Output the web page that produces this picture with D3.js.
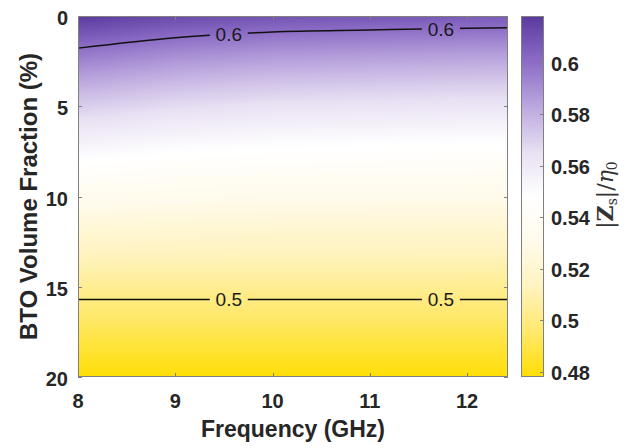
<!DOCTYPE html>
<html><head><meta charset="utf-8">
<script src="https://cdn.jsdelivr.net/npm/d3@7"></script>
<style>body{margin:0;background:#fff}svg{display:block}</style>
</head><body>
<svg id="chart" width="630" height="448"></svg>
<script>
// ---------- data ----------
const freqs = [8, 9, 10, 11, 12, 12.42];            // GHz (grid columns)
const fractions = [0,1,2,3,4,5,6,7,8,9,10,11,12,13,14,15,16,17,18,19,20]; // BTO %
const z8    = [0.6180,0.6078,0.5978,0.5885,0.5795,0.5710,0.5630,0.5555,0.5485,0.5410,0.5340,0.5272,0.5207,0.5146,0.5090,0.5036,0.4985,0.4935,0.4886,0.4838,0.4790];
const z9    = [0.6122,0.6020,0.5920,0.5830,0.5743,0.5664,0.5589,0.5520,0.5456,0.5387,0.5323,0.5259,0.5198,0.5140,0.5087,0.5036,0.4985,0.4935,0.4886,0.4838,0.4790];
const z10   = [0.6090,0.5988,0.5888,0.5799,0.5714,0.5638,0.5567,0.5501,0.5440,0.5374,0.5313,0.5252,0.5193,0.5137,0.5085,0.5036,0.4985,0.4935,0.4886,0.4838,0.4790];
const z11   = [0.6079,0.5977,0.5877,0.5789,0.5704,0.5629,0.5559,0.5494,0.5434,0.5370,0.5310,0.5250,0.5192,0.5136,0.5085,0.5036,0.4985,0.4935,0.4886,0.4838,0.4790];
const z12   = [0.6069,0.5967,0.5867,0.5780,0.5695,0.5621,0.5552,0.5488,0.5429,0.5366,0.5307,0.5248,0.5190,0.5135,0.5084,0.5036,0.4985,0.4935,0.4886,0.4838,0.4790];
const z1242 = [0.6067,0.5965,0.5865,0.5778,0.5694,0.5620,0.5551,0.5487,0.5428,0.5365,0.5306,0.5248,0.5190,0.5135,0.5084,0.5036,0.4985,0.4935,0.4886,0.4838,0.4790];
const zColumns = [z8, z9, z10, z11, z12, z1242];

const xTicks = [8, 9, 10, 11, 12];
const yTicks = [0, 5, 10, 15, 20];
const cbTicks = [0.48, 0.50, 0.52, 0.54, 0.56, 0.58, 0.60];
const cbDomain = [0.478, 0.618];
const contourLevels = [0.5, 0.6];
const labelFreqs = [9.55, 11.73];
const colorStopValues = [0.478, 0.495, 0.513, 0.530, 0.548, 0.565, 0.583, 0.600, 0.618];
const colorStopColors = ["#ffde00", "#ffe86a", "#fff3bf", "#fffaea", "#ffffff", "#e8e0f3", "#bba7de", "#8c6dc6", "#5a3a9e"];

// ---------- layout ----------
const W = 630, H = 448;
const plot = {left: 78, top: 16, right: 508, bottom: 377};
const cb = {left: 521, right: 544, top: 16, bottom: 377};
const axisColor = "#808080", textColor = "#262626";
const font = "'Liberation Sans', Arial, Helvetica, sans-serif";

const x = d3.scaleLinear().domain([8, 12.42]).range([plot.left, plot.right]);
const y = d3.scaleLinear().domain([0, 20]).range([plot.top, plot.bottom]);
const color = d3.scaleLinear().domain(colorStopValues).range(colorStopColors).interpolate(d3.interpolateRgb).clamp(true);
const cbY = d3.scaleLinear().domain(cbDomain).range([cb.bottom, cb.top]);

const svg = d3.select("#chart");

// bilinear lookup on the grid
const bis = d3.bisector(d => d).right;
function zAt(f, v) {
  let i = Math.min(Math.max(bis(freqs, f) - 1, 0), freqs.length - 2);
  let j = Math.min(Math.max(bis(fractions, v) - 1, 0), fractions.length - 2);
  const tf = Math.max(0, Math.min(1, (f - freqs[i]) / (freqs[i+1] - freqs[i])));
  const tv = Math.max(0, Math.min(1, (v - fractions[j]) / (fractions[j+1] - fractions[j])));
  const a = zColumns[i][j], b = zColumns[i+1][j], c = zColumns[i][j+1], d = zColumns[i+1][j+1];
  return (a*(1-tf) + b*tf)*(1-tv) + (c*(1-tf) + d*tf)*tv;
}

// ---------- heatmap (interpolated shading) ----------
const pw = plot.right - plot.left, ph = plot.bottom - plot.top;
const canvas = document.createElement("canvas");
canvas.width = pw; canvas.height = ph;
const ctx = canvas.getContext("2d");
const img = ctx.createImageData(pw, ph);
for (let py = 0; py < ph; py++) {
  const v = y.invert(plot.top + py + 0.5);
  for (let px = 0; px < pw; px++) {
    const f = x.invert(plot.left + px + 0.5);
    const c = d3.rgb(color(zAt(f, v)));
    const k = (py * pw + px) * 4;
    img.data[k] = c.r; img.data[k+1] = c.g; img.data[k+2] = c.b; img.data[k+3] = 255;
  }
}
ctx.putImageData(img, 0, 0);
svg.append("image").attr("x", plot.left).attr("y", plot.top).attr("width", pw).attr("height", ph)
  .attr("preserveAspectRatio", "none").attr("href", canvas.toDataURL());

// ---------- contours ----------
function contourPoints(level) {
  const pts = [];
  freqs.forEach((f, i) => {
    const col = zColumns[i];
    for (let j = 0; j < col.length - 1; j++) {
      if ((col[j] - level) * (col[j+1] - level) <= 0 && col[j] !== col[j+1]) {
        const t = (col[j] - level) / (col[j] - col[j+1]);
        pts.push([f, fractions[j] + t * (fractions[j+1] - fractions[j])]);
        break;
      }
    }
  });
  return pts;
}
function vOnLine(pts, f) {
  for (let i = 0; i < pts.length - 1; i++) {
    if (f >= pts[i][0] && f <= pts[i+1][0]) {
      const t = (f - pts[i][0]) / (pts[i+1][0] - pts[i][0]);
      return pts[i][1] + t * (pts[i+1][1] - pts[i][1]);
    }
  }
  return pts[pts.length-1][1];
}
const defs = svg.append("defs");
const mask = defs.append("mask").attr("id", "cmask").attr("maskUnits", "userSpaceOnUse")
  .attr("x", 0).attr("y", 0).attr("width", W).attr("height", H);
mask.append("rect").attr("x", 0).attr("y", 0).attr("width", W).attr("height", H).attr("fill", "#fff");
const line = d3.line().x(d => x(d[0])).y(d => y(d[1])).curve(d3.curveMonotoneX);
const cg = svg.append("g").attr("mask", "url(#cmask)");
const lg = svg.append("g");
contourLevels.forEach(level => {
  const pts = contourPoints(level);
  cg.append("path").attr("d", line(pts)).attr("fill", "none").attr("stroke", "#111").attr("stroke-width", 1.5);
  labelFreqs.forEach(f => {
    const cx = x(f), cy = y(vOnLine(pts, f));
    mask.append("rect").attr("x", cx - 19).attr("y", cy - 11).attr("width", 38).attr("height", 22).attr("fill", "#000");
    lg.append("text").attr("x", cx).attr("y", cy).attr("dy", "0.36em").attr("text-anchor", "middle")
      .attr("font-family", font).attr("font-size", 19).attr("fill", "#1a1a1a").text(String(+level.toFixed(2)));
  });
});

// ---------- axes box & ticks ----------
const tl = 4;
const ax = svg.append("g").attr("stroke", axisColor).attr("stroke-width", 1).attr("fill", "none");
ax.append("rect").attr("x", plot.left + 0.5).attr("y", plot.top + 0.5).attr("width", pw - 1).attr("height", ph - 1);
xTicks.forEach(t => {
  const px = Math.round(x(t)) + 0.5;
  ax.append("line").attr("x1", px).attr("x2", px).attr("y1", plot.bottom).attr("y2", plot.bottom - tl);
  ax.append("line").attr("x1", px).attr("x2", px).attr("y1", plot.top).attr("y2", plot.top + tl);
});
yTicks.forEach(t => {
  const py = Math.round(y(t)) + 0.5;
  ax.append("line").attr("x1", plot.left).attr("x2", plot.left + tl).attr("y1", py).attr("y2", py);
  ax.append("line").attr("x1", plot.right).attr("x2", plot.right - tl).attr("y1", py).attr("y2", py);
});
const tg = svg.append("g").attr("font-family", font).attr("font-weight", "bold").attr("font-size", 20).attr("fill", textColor);
xTicks.forEach(t => tg.append("text").attr("x", x(t)).attr("y", 408).attr("text-anchor", "middle").text(t));
yTicks.forEach(t => tg.append("text").attr("x", plot.left - 10).attr("y", y(t) + 2).attr("dy", "0.36em").attr("text-anchor", "end").text(t));

svg.append("text").attr("x", (plot.left + plot.right) / 2).attr("y", 437).attr("text-anchor", "middle")
  .attr("font-family", font).attr("font-weight", "bold").attr("font-size", 23).attr("fill", textColor).text("Frequency (GHz)");
svg.append("text").attr("transform", `translate(37,${(plot.top + plot.bottom) / 2}) rotate(-90)`).attr("text-anchor", "middle")
  .attr("font-family", font).attr("font-weight", "bold").attr("font-size", 24).attr("fill", textColor).text("BTO Volume Fraction (%)");

// ---------- colorbar ----------
const cbh = cb.bottom - cb.top, cbw = cb.right - cb.left;
const c2 = document.createElement("canvas");
c2.width = 1; c2.height = cbh;
const ctx2 = c2.getContext("2d");
for (let py = 0; py < cbh; py++) {
  ctx2.fillStyle = color(cbY.invert(cb.top + py + 0.5));
  ctx2.fillRect(0, py, 1, 1);
}
svg.append("image").attr("x", cb.left).attr("y", cb.top).attr("width", cbw).attr("height", cbh)
  .attr("preserveAspectRatio", "none").attr("style", "image-rendering:pixelated").attr("href", c2.toDataURL());
const cbg = svg.append("g").attr("stroke", axisColor).attr("fill", "none");
cbg.append("rect").attr("x", cb.left + 0.5).attr("y", cb.top + 0.5).attr("width", cbw - 1).attr("height", cbh - 1);
cbTicks.forEach(t => {
  const py = Math.round(cbY(t)) + 0.5;
  cbg.append("line").attr("x1", cb.right).attr("x2", cb.right - tl).attr("y1", py).attr("y2", py);
  tg.append("text").attr("x", cb.right + 7).attr("y", cbY(t) + 1).attr("dy", "0.36em").attr("text-anchor", "start").text(String(+t.toFixed(2)));
});
const cl = svg.append("text").attr("transform", `translate(613,195) rotate(-90)`).attr("text-anchor", "middle")
  .attr("font-family", "'DejaVu Serif', 'Liberation Serif', serif").attr("font-size", 22).attr("fill", "#333");
cl.append("tspan").text("|");
cl.append("tspan").attr("font-weight", "bold").text("Z");
cl.append("tspan").attr("font-size", 14).attr("dy", 4).text("s");
cl.append("tspan").attr("dy", -4).text("|/");
cl.append("tspan").attr("font-style", "italic").text("η");
cl.append("tspan").attr("font-size", 14).attr("dy", 4).text("0");
</script>
</body></html>
